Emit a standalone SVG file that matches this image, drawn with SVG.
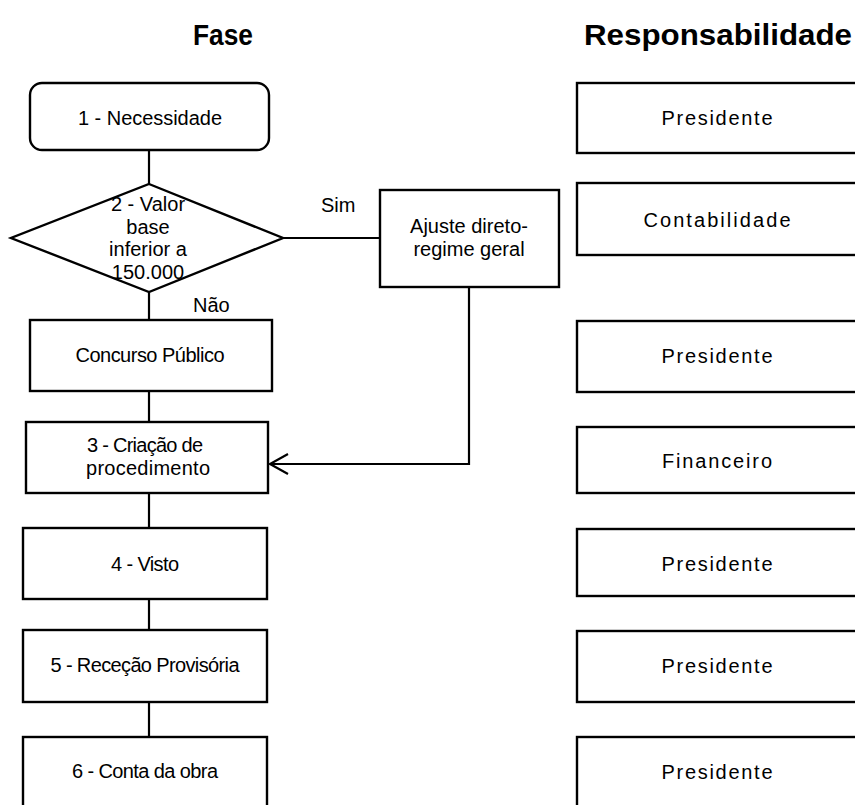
<svg xmlns="http://www.w3.org/2000/svg" width="855" height="805" viewBox="0 0 855 805">
<style>
.s{fill:#fff;stroke:#000;stroke-width:2.4}
.c{fill:none;stroke:#000;stroke-width:2.2}
.t{font-family:"Liberation Sans",Arial,sans-serif;font-size:20px;fill:#000;text-anchor:middle}
.l{font-family:"Liberation Sans",Arial,sans-serif;font-size:20px;fill:#000}
.h{font-family:"Liberation Sans",Arial,sans-serif;font-size:30px;font-weight:bold;fill:#000;text-anchor:middle}
</style>
<defs>
<marker id="arr" markerUnits="userSpaceOnUse" markerWidth="22" markerHeight="24" refX="19" refY="11" orient="auto" viewBox="0 0 22 24">
<path d="M1,1 L19,11 L1,21" fill="none" stroke="#000" stroke-width="2.2"/>
</marker>
</defs>
<rect width="855" height="805" fill="#fff"/>
<g id="headings">
<text class="h" x="223" y="45" textLength="60" lengthAdjust="spacingAndGlyphs">Fase</text>
<text class="h" x="718" y="45" textLength="268" lengthAdjust="spacingAndGlyphs">Responsabilidade</text>
</g>
<g id="connectors">
<line class="c" x1="149" y1="150" x2="149" y2="184"/>
<line class="c" x1="149" y1="292" x2="149" y2="320"/>
<line class="c" x1="149" y1="391" x2="149" y2="422"/>
<line class="c" x1="149" y1="493" x2="149" y2="528"/>
<line class="c" x1="149" y1="599" x2="149" y2="630"/>
<line class="c" x1="149" y1="702" x2="149" y2="737"/>
<line class="c" x1="283" y1="238" x2="380" y2="238"/>
<path class="c" d="M469,287 L469,464 L270,464" marker-end="url(#arr)"/>
<text class="l" x="321" y="212">Sim</text>
<text class="l" x="193" y="312">Não</text>
</g>
<g id="n1">
<rect class="s" x="30" y="83" width="239" height="67" rx="12"/>
<text class="t" x="150" y="125" textLength="144">1 - Necessidade</text>
</g>
<g id="n2">
<polygon class="s" points="149,184 283,238 149,292 11,238"/>
<text class="t" x="148" y="211">2 - Valor</text>
<text class="t" x="148" y="234">base</text>
<text class="t" x="148" y="256">inferior a</text>
<text class="t" x="148" y="279">150.000</text>
</g>
<g id="ajuste">
<rect class="s" x="380" y="190" width="179" height="97"/>
<text class="t" x="469" y="233">Ajuste direto-</text>
<text class="t" x="469" y="256">regime geral</text>
</g>
<g id="concurso">
<rect class="s" x="30" y="320" width="242" height="71"/>
<text class="t" x="150" y="362" textLength="149">Concurso Público</text>
</g>
<g id="n3">
<rect class="s" x="26" y="422" width="242" height="71"/>
<text class="t" x="145" y="452" textLength="116">3 - Criação de</text>
<text class="t" x="148" y="475" textLength="124">procedimento</text>
</g>
<g id="n4">
<rect class="s" x="23" y="528" width="244" height="71"/>
<text class="t" x="145" y="571" textLength="68">4 - Visto</text>
</g>
<g id="n5">
<rect class="s" x="23" y="630" width="244" height="72"/>
<text class="t" x="145" y="672" textLength="189">5 - Receção Provisória</text>
</g>
<g id="n6">
<rect class="s" x="23" y="737" width="244" height="80"/>
<text class="t" x="145" y="778" textLength="146">6 - Conta da obra</text>
</g>
<g id="r1">
<rect class="s" x="577" y="83" width="285" height="70"/>
<text class="t" x="717" y="125" textLength="111">Presidente</text>
</g>
<g id="r2">
<rect class="s" x="577" y="183" width="285" height="72"/>
<text class="t" x="717" y="227" textLength="147">Contabilidade</text>
</g>
<g id="r3">
<rect class="s" x="577" y="321" width="285" height="71"/>
<text class="t" x="717" y="363" textLength="111">Presidente</text>
</g>
<g id="r4">
<rect class="s" x="577" y="427" width="285" height="66"/>
<text class="t" x="717" y="468" textLength="110">Financeiro</text>
</g>
<g id="r5">
<rect class="s" x="577" y="529" width="285" height="67"/>
<text class="t" x="717" y="571" textLength="111">Presidente</text>
</g>
<g id="r6">
<rect class="s" x="577" y="631" width="285" height="71"/>
<text class="t" x="717" y="673" textLength="111">Presidente</text>
</g>
<g id="r7">
<rect class="s" x="577" y="737" width="285" height="80"/>
<text class="t" x="717" y="779" textLength="111">Presidente</text>
</g>
</svg>
